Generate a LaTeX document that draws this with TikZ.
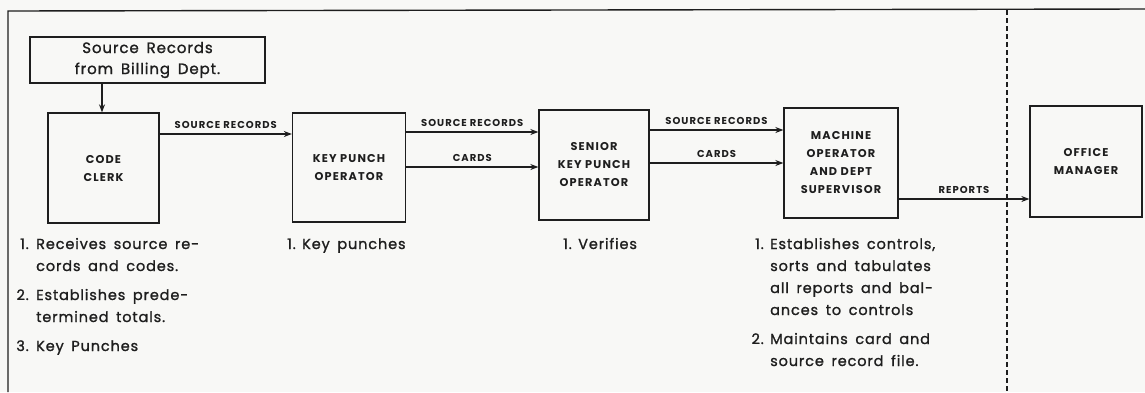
\documentclass[tikz,border=0pt]{standalone}
\usepackage{fontspec}
\setmainfont{Poppins}
\newfontfamily\capsff[LetterSpace=10]{Poppins}
\newfontfamily\bodyff[LetterSpace=6,WordSpace=1.6,FakeBold=1.2]{Poppins}
\usetikzlibrary{arrows.meta}
\definecolor{ink}{HTML}{1E1E1E}
\definecolor{paper}{HTML}{F8F8F6}
\begin{document}
\begin{tikzpicture}[x=1pt,y=-1pt,
  box/.style={draw=ink, line width=1.3pt, inner sep=0pt, align=center, text=ink,
    font=\capsff\bfseries\fontsize{11.3}{18}\selectfont},
  srcbox/.style={draw=ink, line width=1.3pt, inner sep=0pt, align=center, text=ink,
    font=\bodyff\fontsize{15}{21}\selectfont},
  arr/.style={draw=ink, line width=1.2pt, -{Stealth[length=8pt,width=6pt]}},
  lbl/.style={inner sep=0pt, text=ink, font=\capsff\bfseries\fontsize{10}{10}\selectfont},
  txt/.style={inner sep=0pt, anchor=base west, text=ink, font=\bodyff\fontsize{14.5}{22}\selectfont},
  num/.style={inner sep=0pt, anchor=base east, text=ink, font=\bodyff\fontsize{14.5}{22}\selectfont},
  frame/.style={draw=ink, line width=1.4pt},
  divider/.style={draw=ink, line width=1.3pt, dash pattern=on 5pt off 3pt}]
\fill[paper] (0,0) rectangle (1145,392);
\useasboundingbox (0,0) rectangle (1145,392);
\draw[frame] (8,392) -- (8,11) -- (1145,9);
\draw[divider] (1007,10) -- (1007,392);

\node[srcbox, minimum width=235pt, minimum height=46pt] (src) at (147.5,60) {Source Records\\from Billing Dept.};
\node[box, minimum width=111pt, minimum height=110pt] (cc) at (103.5,168) {CODE\\CLERK};
\node[box, minimum width=113pt, minimum height=109pt] (kpo) at (349,167.5) {KEY PUNCH\\OPERATOR};
\node[box, minimum width=110pt, minimum height=110pt] (skpo) at (594,165) {SENIOR\\KEY PUNCH\\OPERATOR};
\node[box, minimum width=114pt, minimum height=110pt] (mo) at (841,163) {MACHINE\\OPERATOR\\AND DEPT\\SUPERVISOR};
\node[box, minimum width=112pt, minimum height=111pt] (om) at (1086,161.5) {OFFICE\\MANAGER};

\draw[arr] (src.south -| 102,0) -- (cc.north -| 102,0);
\draw[arr] (cc.east |- 0,134) -- node[lbl, midway, above=5pt] (l1) {SOURCE RECORDS} (kpo.west |- 0,134);
\draw[arr] (kpo.east |- 0,132) -- node[lbl, midway, above=5pt] (l2) {SOURCE RECORDS} (skpo.west |- 0,132);
\draw[arr] (kpo.east |- 0,167) -- node[lbl, midway, above=5pt] (l3) {CARDS} (skpo.west |- 0,167);
\draw[arr] (skpo.east |- 0,130) -- node[lbl, midway, above=5pt] (l4) {SOURCE RECORDS} (mo.west |- 0,130);
\draw[arr] (skpo.east |- 0,163) -- node[lbl, midway, above=5pt] (l5) {CARDS} (mo.west |- 0,163);
\draw[arr] (mo.east |- 0,199) -- node[lbl, midway, above=5pt] (l6) {REPORTS} (om.west |- 0,199);

% Code clerk duties
\node[num] (c1n) at (29,249) {1.};
\node[txt] (c1a) at (36,249) {Receives source re-};
\node[txt] (c1b) at (36,271) {cords and codes.};
\node[num] (c2n) at (29,300) {2.};
\node[txt] (c2a) at (36,300) {Establishes prede-};
\node[txt] (c2b) at (36,322) {termined totals.};
\node[num] (c3n) at (29,351) {3.};
\node[txt] (c3a) at (36,351) {Key Punches};

% Key punch
\node[num] (k1n) at (296,249) {1.};
\node[txt] (k1a) at (302,249) {Key punches};

% Senior
\node[num] (s1n) at (572,249) {1.};
\node[txt] (s1a) at (578,249) {Verifies};

% Machine operator duties
\node[num] (m1n) at (764,249) {1.};
\node[txt] (m1a) at (770,249) {Establishes controls,};
\node[txt] (m1b) at (770,271) {sorts and tabulates};
\node[txt] (m1c) at (770,293) {all reports and bal-};
\node[txt] (m1d) at (770,315) {ances to controls};
\node[num] (m2n) at (764,344) {2.};
\node[txt] (m2a) at (770,344) {Maintains card and};
\node[txt] (m2b) at (770,366) {source record file.};
\end{tikzpicture}
\end{document}
